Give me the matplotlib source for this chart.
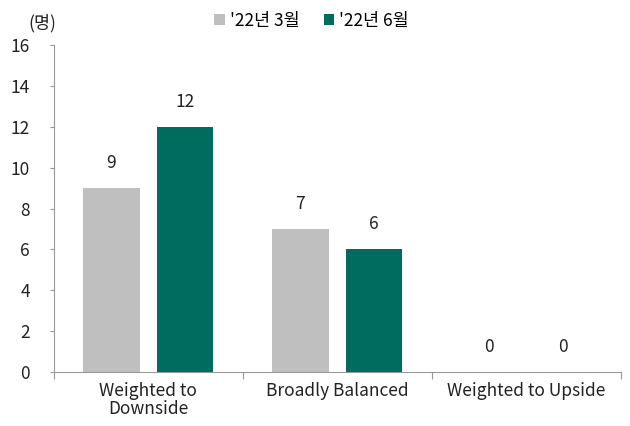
import matplotlib
matplotlib.use("Agg")
import matplotlib.pyplot as plt
import numpy as np

plt.rcParams['font.family'] = ['Noto Sans CJK KR', 'DejaVu Sans']

categories = ["Weighted to\nDownside", "Broadly Balanced", "Weighted to Upside"]
mar22 = [9, 7, 0]
jun22 = [12, 6, 0]
series_names = ["'22년 3월", "'22년 6월"]
colors = ["#bfbfbf", "#006b5f"]

fig = plt.figure(figsize=(6.3, 4.26), dpi=100)
ax = fig.add_axes([0.085, 0.127, 0.9, 0.767])

x = np.arange(len(categories))
w = 0.3
off = 0.195
b1 = ax.bar(x - off, mar22, w, color=colors[0], label=series_names[0])
b2 = ax.bar(x + off, jun22, w, color=colors[1], label=series_names[1])

# value labels above bars
for bars, vals in [(b1, mar22), (b2, jun22)]:
    for b, v in zip(bars, vals):
        ax.text(b.get_x() + b.get_width()/2, v + 0.8, str(v),
                ha='center', va='bottom', fontsize=12.5, color='#222222')

ax.set_xlim(-0.5, 2.5)
ax.set_ylim(0, 16)
ax.set_yticks(range(0, 17, 2))
ax.tick_params(axis='y', labelsize=12.5, length=3, color='#999999', labelcolor='#222222', pad=14)

# category separators as major ticks, names as minor
ax.set_xticks([-0.5, 0.5, 1.5, 2.5])
ax.set_xticklabels([])
ax.set_xticks(x, minor=True)
ax.set_xticklabels(categories, minor=True, fontsize=12.5, color='#222222', linespacing=1.0)
ax.tick_params(axis='x', which='major', length=5, color='#999999')
ax.tick_params(axis='x', which='minor', length=0, pad=7)

for s in ['top', 'right']:
    ax.spines[s].set_visible(False)
for s in ['left', 'bottom']:
    ax.spines[s].set_color('#999999')

fig.text(0.045, 0.945, "(명)", fontsize=12.5, color='#222222', ha='left', va='center')

ax.legend(loc='upper center', bbox_to_anchor=(0.455, 1.15), ncol=2, frameon=False,
          fontsize=12.5, handlelength=0.6, handleheight=0.6, handletextpad=0.3,
          columnspacing=1.4)

fig.savefig("out.png", dpi=100)
